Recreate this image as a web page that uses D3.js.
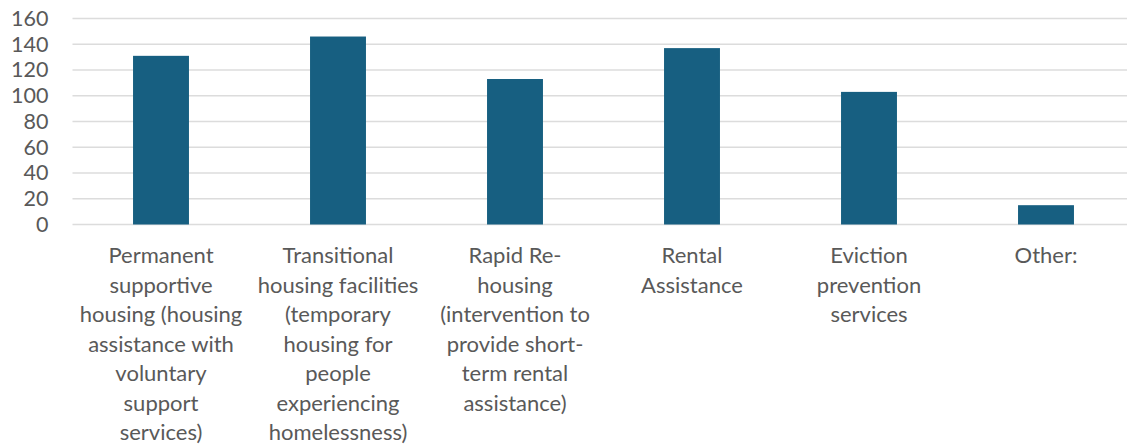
<!DOCTYPE html>
<html>
<head>
<meta charset="utf-8">
<script src="https://cdn.jsdelivr.net/npm/d3@7"></script>
<style>
  body { margin: 0; background: #fff; }
  svg { display: block; }
</style>
</head>
<body>
<div id="chart"></div>
<script>
// data
const categories = [
    "Permanent supportive housing",
    "Transitional housing facilities",
    "Rapid Re-housing",
    "Rental Assistance",
    "Eviction prevention services",
    "Other:"
]
const labelLines = [
    ["Permanent", "supportive", "housing (housing", "assistance with", "voluntary", "support", "services)"],
    ["Transitional", "housing facilities", "(temporary", "housing for", "people", "experiencing", "homelessness)"],
    ["Rapid Re-", "housing", "(intervention to", "provide short-", "term rental", "assistance)"],
    ["Rental", "Assistance"],
    ["Eviction", "prevention", "services"],
    ["Other:"]
]
const values = [131, 146, 113, 137, 103, 15]
const yTicks = [0, 20, 40, 60, 80, 100, 120, 140, 160]

let dimensions = {
    width: 1127,
    height: 444,
    margin: {
        top: 18.5,
        right: -7.5,
        bottom: 219.5,
        left: 72.5,
    },
}
dimensions.boundedWidth = dimensions.width
    - dimensions.margin.left
    - dimensions.margin.right
dimensions.boundedHeight = dimensions.height
    - dimensions.margin.top
    - dimensions.margin.bottom

const wrapper = d3.select("#chart")
    .append("svg")
    .attr("width", dimensions.width)
    .attr("height", dimensions.height)

const bounds = wrapper.append("g")
    .attr("transform", `translate(${dimensions.margin.left}, ${dimensions.margin.top})`)

// scales
const xScale = d3.scaleBand()
    .domain(categories)
    .range([0, dimensions.boundedWidth])
    .paddingInner(0.684)
    .paddingOuter(0.342)

const yScale = d3.scaleLinear()
    .domain([0, 160])
    .range([dimensions.boundedHeight, 0])

// gridlines
bounds.append("g")
    .selectAll("line")
    .data(yTicks)
    .join("line")
    .attr("x1", 0)
    .attr("x2", dimensions.boundedWidth)
    .attr("y1", d => yScale(d))
    .attr("y2", d => yScale(d))
    .attr("stroke", "#dcdcdc")
    .attr("stroke-width", 1.6)

// bars
bounds.append("g")
    .selectAll("rect")
    .data(values)
    .join("rect")
    .attr("x", (d, i) => xScale(categories[i]))
    .attr("y", d => yScale(d))
    .attr("width", xScale.bandwidth())
    .attr("height", d => dimensions.boundedHeight - yScale(d))
    .attr("fill", "#175f81")

// y axis
const yAxisGenerator = d3.axisLeft(yScale)
    .tickValues(yTicks)
    .tickSize(0)
    .tickPadding(24)

const yAxis = bounds.append("g")
    .call(yAxisGenerator)
yAxis.select(".domain").remove()
yAxis.selectAll("text")
    .attr("font-family", "Lato, 'Open Sans', sans-serif")
    .attr("font-size", 21.5)
    .attr("fill", "#595959")

// x axis labels
const xAxisGenerator = d3.axisBottom(xScale)
    .tickSize(0)
    .tickFormat("")

const xAxis = bounds.append("g")
    .attr("transform", `translate(0, ${dimensions.boundedHeight})`)
    .call(xAxisGenerator)
xAxis.select(".domain").remove()

xAxis.selectAll(".tick")
    .append("text")
    .attr("font-family", "Lato, 'Open Sans', sans-serif")
    .attr("font-size", 22)
    .attr("fill", "#595959")
    .attr("text-anchor", "middle")
    .selectAll("tspan")
    .data((d, i) => labelLines[categories.indexOf(d)])
    .join("tspan")
    .attr("x", 0)
    .attr("y", (d, i) => 38.5 + i * 29.5)
    .text(d => d)
</script>
</body>
</html>
